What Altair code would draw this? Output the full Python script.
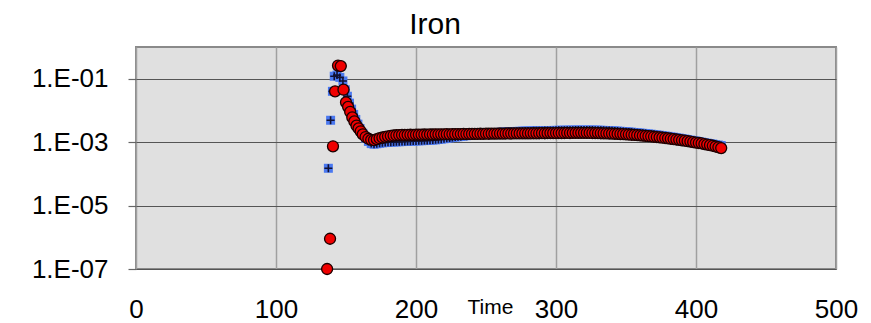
import altair as alt
import pandas as pd

title_text = "Iron"
x_title = "Time"
x_ticks = [0, 100, 200, 300, 400, 500]
y_ticks = [1e-7, 1e-5, 1e-3, 1e-1]

blue_time = [
    137.4, 139.0, 140.3, 141.6, 143.6, 145.6, 147.8, 149.5, 151.0, 152.5,
    154.0, 155.5, 157.0, 158.5, 160.0, 162.0, 164.0, 166.0, 168.0, 170.0, 172.0,
    174, 176, 178, 180, 182, 184, 186, 188, 190, 192,
    194, 196, 198, 200, 202, 204, 206, 208, 210, 212,
    214, 216, 218, 220, 222, 224, 226, 228, 230, 232,
    234, 236, 238, 240, 242, 244, 246, 248, 250, 252,
    254, 256, 258, 260, 262, 264, 266, 268, 270, 272,
    274, 276, 278, 280, 282, 284, 286, 288, 290, 292,
    294, 296, 298, 300, 302, 304, 306, 308, 310, 312,
    314, 316, 318, 320, 322, 324, 326, 328, 330, 332,
    334, 336, 338, 340, 342, 344, 346, 348, 350, 352,
    354, 356, 358, 360, 362, 364, 366, 368, 370, 372,
    374, 376, 378, 380, 382, 384, 386, 388, 390, 392,
    394, 396, 398, 400, 402, 404, 406, 408, 410, 412,
    414, 416, 418,
]
blue_value = [
    1.5e-4, 4.9e-3, 4.0e-2, 1.2e-1, 1.3e-1, 1.1e-1, 8.5e-2, 4.5e-2, 2.8e-2, 1.7e-2,
    1.1e-2, 7.5e-3, 5.2e-3, 3.7e-3, 2.7e-3, 1.9e-3, 1.35e-3, 1.05e-3, 9.0e-4, 8.6e-4, 8.9e-4,
    0.92e-3, 0.95e-3, 0.97e-3, 0.99e-3, 1.00e-3, 1.01e-3, 1.02e-3, 1.03e-3, 1.04e-3, 1.05e-3,
    1.06e-3, 1.07e-3, 1.08e-3, 1.09e-3, 1.10e-3, 1.11e-3, 1.12e-3, 1.13e-3, 1.14e-3, 1.16e-3,
    1.18e-3, 1.21e-3, 1.24e-3, 1.28e-3, 1.32e-3, 1.36e-3, 1.40e-3, 1.44e-3, 1.48e-3, 1.52e-3,
    1.56e-3, 1.60e-3, 1.64e-3, 1.68e-3, 1.72e-3, 1.76e-3, 1.80e-3, 1.84e-3, 1.88e-3, 1.92e-3,
    1.95e-3, 1.98e-3, 2.01e-3, 2.04e-3, 2.07e-3, 2.10e-3, 2.12e-3, 2.14e-3, 2.16e-3, 2.18e-3,
    2.20e-3, 2.22e-3, 2.24e-3, 2.25e-3, 2.26e-3, 2.27e-3, 2.28e-3, 2.29e-3, 2.30e-3, 2.31e-3,
    2.32e-3, 2.33e-3, 2.34e-3, 2.35e-3, 2.36e-3, 2.37e-3, 2.38e-3, 2.38e-3, 2.39e-3, 2.39e-3,
    2.40e-3, 2.40e-3, 2.40e-3, 2.40e-3, 2.40e-3, 2.40e-3, 2.40e-3, 2.39e-3, 2.38e-3, 2.37e-3,
    2.35e-3, 2.33e-3, 2.31e-3, 2.29e-3, 2.26e-3, 2.23e-3, 2.20e-3, 2.17e-3, 2.14e-3, 2.10e-3,
    2.06e-3, 2.02e-3, 1.98e-3, 1.94e-3, 1.90e-3, 1.86e-3, 1.82e-3, 1.78e-3, 1.74e-3, 1.70e-3,
    1.65e-3, 1.61e-3, 1.56e-3, 1.52e-3, 1.47e-3, 1.43e-3, 1.38e-3, 1.34e-3, 1.29e-3, 1.25e-3,
    1.20e-3, 1.16e-3, 1.12e-3, 1.08e-3, 1.04e-3, 1.00e-3, 0.96e-3, 0.93e-3, 0.90e-3, 0.87e-3,
    0.84e-3, 0.81e-3, 0.78e-3,
]

red_time = [
    136.5, 138.6, 140.7, 142.2, 144.3, 146.3, 148.2, 150.0, 151.5, 153.0,
    154.5, 156.0, 157.5, 159.0, 160.5, 162.0, 164.0, 166.0, 168.0, 170.0, 172.0,
    174, 176, 178, 180, 182, 184, 186, 188, 190, 192,
    194, 196, 198, 200, 202, 204, 206, 208, 210, 212,
    214, 216, 218, 220, 222, 224, 226, 228, 230, 232,
    234, 236, 238, 240, 242, 244, 246, 248, 250, 252,
    254, 256, 258, 260, 262, 264, 266, 268, 270, 272,
    274, 276, 278, 280, 282, 284, 286, 288, 290, 292,
    294, 296, 298, 300, 302, 304, 306, 308, 310, 312,
    314, 316, 318, 320, 322, 324, 326, 328, 330, 332,
    334, 336, 338, 340, 342, 344, 346, 348, 350, 352,
    354, 356, 358, 360, 362, 364, 366, 368, 370, 372,
    374, 376, 378, 380, 382, 384, 386, 388, 390, 392,
    394, 396, 398, 400, 402, 404, 406, 408, 410, 412,
    414, 416, 418,
]
red_value = [
    1.0e-7, 9.0e-7, 7.4e-4, 4.0e-2, 2.6e-1, 2.5e-1, 4.5e-2, 1.8e-2, 1.3e-2, 9.0e-3,
    6.0e-3, 4.5e-3, 3.3e-3, 2.7e-3, 2.2e-3, 1.75e-3, 1.45e-3, 1.28e-3, 1.18e-3, 1.16e-3, 1.24e-3,
    1.33e-3, 1.40e-3, 1.47e-3, 1.53e-3, 1.58e-3, 1.62e-3, 1.65e-3, 1.67e-3, 1.69e-3, 1.68e-3,
    1.70e-3, 1.71e-3, 1.70e-3, 1.72e-3, 1.73e-3, 1.72e-3, 1.74e-3, 1.73e-3, 1.75e-3, 1.74e-3,
    1.76e-3, 1.75e-3, 1.77e-3, 1.76e-3, 1.78e-3, 1.77e-3, 1.79e-3, 1.78e-3, 1.80e-3, 1.79e-3,
    1.81e-3, 1.80e-3, 1.82e-3, 1.81e-3, 1.83e-3, 1.82e-3, 1.84e-3, 1.83e-3, 1.85e-3, 1.84e-3,
    1.86e-3, 1.85e-3, 1.86e-3, 1.87e-3, 1.86e-3, 1.87e-3, 1.88e-3, 1.87e-3, 1.88e-3, 1.89e-3,
    1.88e-3, 1.89e-3, 1.90e-3, 1.89e-3, 1.90e-3, 1.91e-3, 1.90e-3, 1.91e-3, 1.92e-3, 1.91e-3,
    1.92e-3, 1.93e-3, 1.92e-3, 1.93e-3, 1.94e-3, 1.93e-3, 1.94e-3, 1.95e-3, 1.94e-3, 1.95e-3,
    1.96e-3, 1.95e-3, 1.96e-3, 1.96e-3, 1.95e-3, 1.95e-3, 1.94e-3, 1.93e-3, 1.92e-3, 1.91e-3,
    1.90e-3, 1.89e-3, 1.87e-3, 1.86e-3, 1.84e-3, 1.82e-3, 1.80e-3, 1.78e-3, 1.76e-3, 1.74e-3,
    1.71e-3, 1.69e-3, 1.66e-3, 1.63e-3, 1.60e-3, 1.57e-3, 1.54e-3, 1.51e-3, 1.48e-3, 1.45e-3,
    1.42e-3, 1.38e-3, 1.35e-3, 1.32e-3, 1.28e-3, 1.25e-3, 1.21e-3, 1.18e-3, 1.14e-3, 1.11e-3,
    1.07e-3, 1.04e-3, 1.00e-3, 0.97e-3, 0.94e-3, 0.91e-3, 0.87e-3, 0.84e-3, 0.80e-3, 0.77e-3,
    0.73e-3, 0.69e-3, 0.65e-3,
]

blue_df = pd.DataFrame({"Time": blue_time, "value": blue_value})
red_df = pd.DataFrame({"Time": red_time, "value": red_value})

FONT = "Liberation Sans"

x_enc = alt.X(
    "Time:Q",
    scale=alt.Scale(domain=[0, 500], nice=False, zero=False),
    axis=alt.Axis(
        values=x_ticks, title=x_title, grid=True, gridColor="#a0a0a0", gridWidth=1.5,
        tickSize=0, domain=False, labelFontSize=26, labelFont=FONT, labelColor="#000000",
        labelPadding=48, labelBaseline="alphabetic", format="d", labelFlush=False,
        titleFontSize=21, titleFont=FONT, titleFontWeight="normal", titleColor="#000000",
        titleX=354, titleY=44, titleBaseline="alphabetic", titleAlign="center",
    ),
)
y_enc = alt.Y(
    "value:Q",
    scale=alt.Scale(type="log", domain=[1e-7, 1], nice=False),
    axis=alt.Axis(
        values=y_ticks, title=None, grid=True, gridColor="#555555", gridWidth=1.2,
        tickSize=8, tickColor="#666666", tickWidth=1.2, domain=False,
        labelFontSize=26, labelFont=FONT, labelColor="#000000", labelPadding=20,
        labelExpr="'1.E-0' + round(-log(datum.value) / LN10)",
    ),
)

blue_sq = alt.Chart(blue_df).mark_point(
    shape="square", filled=True, size=81, color="#4a78f0", opacity=1
).encode(x=x_enc, y=y_enc)

blue_cross = alt.Chart(blue_df).mark_point(
    shape="M-1,0H1M0,-1V1", filled=False, size=64, color="#111133", strokeWidth=1.6, opacity=1
).encode(x=x_enc, y=y_enc)

red_pts = alt.Chart(red_df).mark_point(
    shape="circle", filled=True, size=121, fill="#f00000", stroke="#1a0000",
    strokeWidth=1.3, opacity=1, fillOpacity=1, strokeOpacity=1
).encode(x=x_enc, y=y_enc)

chart = alt.layer(blue_sq, blue_cross, red_pts).properties(
    width=700,
    height=222,
    autosize=alt.AutoSizeParams(type="none"),
    padding={"left": 128, "top": 39, "right": 27, "bottom": 55},
    title=alt.TitleParams(
        text=title_text, fontSize=30, font=FONT, fontWeight="normal", color="#000000",
        anchor="middle", dx=-51, offset=7,
    ),
).configure_view(
    fill="#e0e0e0", stroke="#8a8a8a", strokeWidth=2
)

chart.save("out.html", embed_options={"renderer": "svg", "actions": False})
